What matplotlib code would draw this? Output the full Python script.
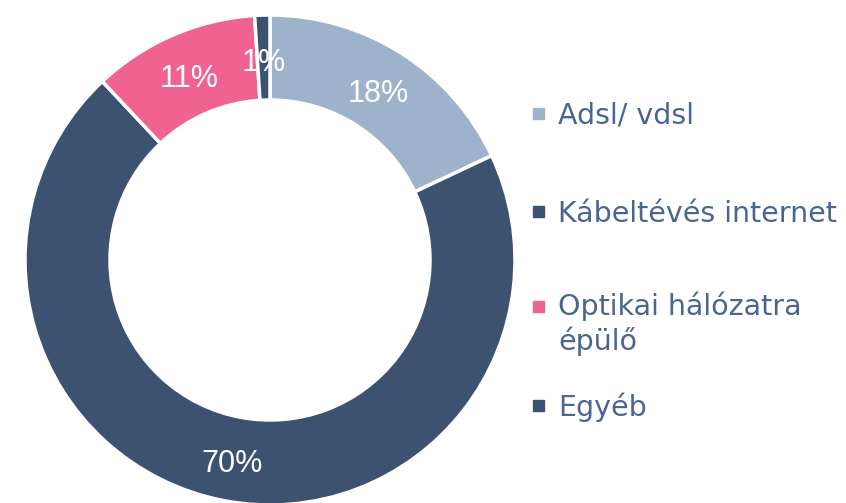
import matplotlib
matplotlib.use("Agg")
import matplotlib.pyplot as plt
from matplotlib.transforms import ScaledTranslation

categories = ["Adsl/ vdsl", "Kábeltévés internet", "Optikai hálózatra\népülő", "Egyéb"]
values = [18, 70, 11, 1]
labels = ["18%", "70%", "11%", "1%"]
colors = ["#9FB2CB", "#3D5271", "#F06391", "#3D5271"]
text_color = "#4A6690"

fig = plt.figure(figsize=(8.46, 5.03), dpi=100)
W, H = 846, 503
cx, cy, R = 270, 260, 245
ax = fig.add_axes([(cx - R) / W, (H - cy - R) / H, 2 * R / W, 2 * R / H])

rin = 160 / 245
width = 1 - rin
wedges, texts = ax.pie(values, colors=colors, startangle=90, counterclock=False,
                       radius=1, labels=labels, labeldistance=(1 + rin) / 2,
                       wedgeprops=dict(width=width, edgecolor="white", linewidth=2.5),
                       textprops=dict(color="white", fontsize=22, family="Liberation Sans",
                                      ha="center", va="center"))
shift = ScaledTranslation(0, -5 / 100, fig.dpi_scale_trans)
for t in texts:
    t.set_transform(t.get_transform() + shift)
ax.set_xlim(-1, 1)
ax.set_ylim(-1, 1)
ax.set_aspect("equal")
ax.axis("off")

# legend
ys = [114, 212, 307, 406]
for cat, col, y in zip(categories, colors, ys):
    fig.patches.append(plt.Rectangle((533 / W, 1 - (y + 5) / H), 11 / W, 11 / H,
                                     transform=fig.transFigure, color=col))
    nl = cat.count("\n")
    fig.text(558 / W, 1 - (y + 10 + nl * 33) / H, cat, color=text_color, fontsize=20.5,
             family="DejaVu Sans", ha="left", va="baseline", linespacing=1.22)

fig.savefig("out.png", dpi=100)
